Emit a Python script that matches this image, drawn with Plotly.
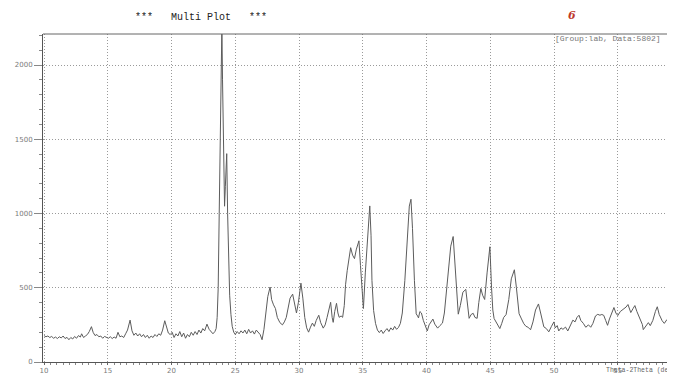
import plotly.graph_objects as go

two_theta = [
    10.0, 10.15, 10.3, 10.45, 10.6, 10.75, 10.9, 11.05, 11.2, 11.35, 11.5, 11.65, 11.8, 11.95,
    12.1, 12.25, 12.4, 12.55, 12.7, 12.85, 12.95, 13.1, 13.25, 13.4, 13.55, 13.72, 13.85, 14.0,
    14.15, 14.3, 14.45, 14.6, 14.75, 14.9, 15.05, 15.2, 15.35, 15.5, 15.65, 15.8, 15.95, 16.1,
    16.25, 16.4, 16.55, 16.75, 16.9, 17.05, 17.2, 17.35, 17.5, 17.65, 17.8, 17.95, 18.1, 18.25,
    18.4, 18.55, 18.7, 18.85, 19.0, 19.15, 19.3, 19.47, 19.6, 19.75, 19.9, 20.05, 20.2, 20.35,
    20.5, 20.65, 20.8, 20.95, 21.1, 21.25, 21.4, 21.55, 21.7, 21.85, 22.0, 22.15, 22.3, 22.45,
    22.6, 22.78, 22.95, 23.1, 23.25, 23.4, 23.5, 23.58, 23.66, 23.74, 23.82, 23.9, 23.95, 24.0,
    24.06, 24.12, 24.16, 24.22, 24.28, 24.33, 24.4, 24.48, 24.56, 24.66, 24.76, 24.88, 25.0,
    25.15, 25.3, 25.45, 25.6, 25.75, 25.9, 26.05, 26.2, 26.35, 26.5, 26.65, 26.8, 26.95, 27.1,
    27.25, 27.4, 27.55, 27.73, 27.85, 28.0, 28.15, 28.3, 28.5, 28.7, 28.85, 29.0, 29.15, 29.3,
    29.5, 29.65, 29.8, 29.95, 30.15, 30.3, 30.45, 30.6, 30.75, 30.9, 31.05, 31.2, 31.35, 31.55,
    31.7, 31.9, 32.05, 32.2, 32.35, 32.48, 32.6, 32.68, 32.8, 32.94, 33.05, 33.15, 33.3, 33.42,
    33.55, 33.65, 33.78, 33.9, 34.05, 34.2, 34.35, 34.5, 34.7, 34.82, 34.95, 35.05, 35.2, 35.4,
    35.55, 35.65, 35.72, 35.85, 36.0, 36.15, 36.3, 36.45, 36.6, 36.75, 36.9, 37.05, 37.2, 37.35,
    37.5, 37.65, 37.8, 37.95, 38.1, 38.3, 38.5, 38.65, 38.78, 38.9, 39.05, 39.19, 39.3, 39.37,
    39.48, 39.6, 39.75, 39.9, 40.06, 40.2, 40.35, 40.5, 40.65, 40.87, 41.05, 41.25, 41.4, 41.6,
    41.8, 41.9, 42.09, 42.25, 42.4, 42.49, 42.65, 42.85, 43.08, 43.2, 43.34, 43.5, 43.66, 43.8,
    43.97, 44.1, 44.26, 44.4, 44.56, 44.75, 44.97, 45.1, 45.2, 45.3, 45.45, 45.6, 45.75, 45.9,
    46.05, 46.24, 46.45, 46.65, 46.89, 47.05, 47.26, 47.45, 47.63, 47.8, 47.95, 48.16, 48.35,
    48.55, 48.78, 48.95, 49.2, 49.4, 49.59, 49.8, 49.99, 50.1, 50.25, 50.37, 50.55, 50.7, 50.9,
    51.08, 51.25, 51.48, 51.65, 51.8, 51.96, 52.1, 52.3, 52.49, 52.7, 52.88, 53.05, 53.25, 53.43,
    53.6, 53.75, 53.9, 54.05, 54.2, 54.35, 54.5, 54.7, 54.85, 55.0, 55.2, 55.45, 55.65, 55.8,
    55.92, 56.02, 56.2, 56.34, 56.5, 56.7, 56.93, 57.0, 57.2, 57.4, 57.55, 57.75, 57.95, 58.1,
    58.25, 58.48, 58.65, 58.85, 59.1, 59.3, 59.5, 59.7,
]
intensity = [
    178, 170, 175, 165, 172, 160, 168, 158, 170, 162, 175, 158, 166, 150,
    165, 155, 172, 160, 178, 168, 190, 165, 175, 185, 205, 238, 200, 178,
    185, 170, 175, 160, 172, 165, 160, 170, 158, 168, 160, 200, 170, 175,
    165, 190, 215, 282, 210, 180, 195, 175, 190, 170, 185, 165, 180, 160,
    175, 165, 185, 172, 190, 180, 215, 278, 230, 195, 185, 200, 165, 190,
    175, 205, 170, 195, 160, 185, 170, 200, 180, 205, 185, 215, 195, 225,
    210, 255, 220, 205, 190, 205, 225, 300, 500, 1000, 1500, 2000, 2260, 1900,
    1550, 1200, 1049, 1180, 1350, 1403, 1000, 650, 450, 320, 240, 201, 185,
    205, 190, 210, 195, 215, 190, 220, 195, 210, 188, 215, 200, 185, 150,
    220, 330, 440, 505, 420, 385, 360, 300, 265, 250, 270, 300, 360, 430,
    457, 390, 330, 400, 531, 430, 300, 230, 201, 235, 262, 240, 280, 315,
    265, 228, 250, 300, 360, 402, 300, 267, 340, 395, 330, 301, 310, 301,
    380, 520, 615, 700, 770, 720, 696, 760, 816, 650, 450, 360, 600, 900,
    1051, 850, 550, 346, 260, 215, 198, 215, 192, 210, 225, 205, 230, 215,
    240, 220, 233, 260, 330, 550, 850, 1050, 1096, 900, 550, 324, 310, 297,
    340, 330, 280, 240, 209, 250, 270, 289, 255, 228, 245, 262, 330, 520,
    720, 780, 845, 600, 400, 322, 380, 470, 489, 380, 294, 320, 328, 300,
    294, 400, 495, 450, 421, 600, 776, 500, 350, 293, 272, 245, 225, 260,
    300, 319, 420, 560, 621, 500, 325, 290, 258, 240, 235, 217, 270,
    350, 391, 330, 237, 225, 203, 240, 270, 230, 245, 209, 230, 220, 235,
    209, 240, 282, 270, 300, 315, 280, 260, 234, 250, 234, 260, 310, 321,
    315, 320, 314, 280, 247, 290, 330, 367, 330, 313, 340, 355, 370, 387,
    350, 333, 360, 380, 340, 300, 252, 218, 240, 265, 245, 280, 340, 372,
    320, 278, 260, 285, 270, 255, 244, 250,
]

x_ticks = [10, 15, 20, 25, 30, 35, 40, 45, 50, 55]
y_ticks = [0, 500, 1000, 1500, 2000]

title_text = "***   Multi Plot   ***"
info_text = "[Group:lab, Data:5802]"
x_title = "Theta-2Theta (deg)"
page_mark = "6"

# The page keeps the browser's default 8px body margin, so the figure is
# drawn 8px right and 8px down; size and positions are compensated for that.
OFF = 8
W, H = 675 - OFF, 375 - OFF
ML, MR, MT = 43 - OFF, 0, 34 - OFF
AXIS_Y = 362  # page y of the x axis line
MB = H - (AXIS_Y - OFF)
PW, PH = W - ML - MR, H - MT - MB


def px_x(px):
    return (px - OFF - ML) / PW


def px_y(py):
    return (H - MB - (py - OFF)) / PH


fig = go.Figure()
fig.add_trace(go.Scatter(
    x=two_theta, y=intensity, mode="lines",
    line=dict(color="#5c5c5c", width=1),
    hoverinfo="x+y", showlegend=False,
))

axis_font = dict(family="DejaVu Sans", size=7, color="#7a7a7a")
grid_dash = "1px,2px"

fig.update_layout(
    width=W, height=H,
    margin=dict(l=ML, r=MR, t=MT, b=MB, pad=0),
    paper_bgcolor="white", plot_bgcolor="white",
    xaxis=dict(
        range=[9.92, 9.92 + PW / 12.75], tickvals=x_ticks, automargin=False,
        showgrid=True, gridcolor="#9a9a9a", griddash=grid_dash, gridwidth=1,
        showline=True, linecolor="#555555", linewidth=1, mirror=False,
        ticks="outside", ticklen=2, tickcolor="#666666",
        minor=dict(dtick=0.5, ticks="outside", ticklen=2, tickcolor="#888888", showgrid=False),
        tickfont=axis_font, zeroline=False,
    ),
    yaxis=dict(
        range=[0, (AXIS_Y - 34) / 0.1485], tickvals=y_ticks, automargin=False,
        showgrid=True, gridcolor="#9a9a9a", griddash=grid_dash, gridwidth=1,
        showline=True, linecolor="#555555", linewidth=1, mirror=False,
        ticks="outside", ticklen=8, tickcolor="#888888",
        minor=dict(dtick=100, ticks="outside", ticklen=3, tickcolor="#888888", showgrid=False),
        tickfont=axis_font, zeroline=False,
    ),
    shapes=[dict(type="line", xref="paper", yref="paper", x0=0, x1=1, y0=1, y1=1,
                 line=dict(color="#666666", width=1))],
    annotations=[
        dict(text=title_text, xref="paper", yref="paper", x=px_x(201), y=px_y(17),
             xanchor="center", yanchor="middle", showarrow=False,
             font=dict(family="Liberation Mono", size=10, color="#222222")),
        dict(text=info_text, xref="paper", yref="paper", x=px_x(553), y=px_y(38),
             xanchor="left", yanchor="middle", showarrow=False,
             font=dict(family="Liberation Mono", size=8, color="#777777")),
        dict(text=x_title, xref="paper", yref="paper", x=px_x(604), y=px_y(370),
             xanchor="left", yanchor="middle", showarrow=False,
             font=dict(family="Liberation Mono", size=6.5, color="#666666")),
        dict(text="<b><i>" + page_mark + "</i></b>", xref="paper", yref="paper",
             x=px_x(572), y=px_y(15),
             xanchor="center", yanchor="middle", showarrow=False,
             font=dict(family="DejaVu Serif", size=11, color="#c0392b")),
    ],
)

fig.write_html("out.html")
